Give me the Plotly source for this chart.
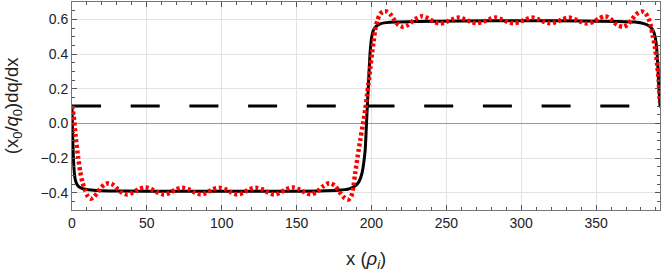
import plotly.graph_objects as go

# ---- data ----
x_max = 392.7
ref_level = 0.1

black_x = [0, 0.25, 0.6, 1.0, 1.5, 2.2, 3.2, 4.5, 6.5, 9, 13, 20, 35, 60, 100, 140, 165, 178,
           185, 189, 190.5, 192, 193.6, 194.8, 195.8, 196.9, 198.0, 199.1, 200.2, 201.3, 203,
           205.8, 210, 216, 230, 260, 300, 340, 365, 376, 382, 385.5, 387.8, 389.3, 390.4,
           391.2, 391.9, 392.7]
black_y = [0.10, 0.0, -0.12, -0.21, -0.28, -0.325, -0.35, -0.365, -0.375, -0.38, -0.385, -0.389,
           -0.391, -0.392, -0.392, -0.392, -0.39, -0.386, -0.378, -0.362, -0.35, -0.33, -0.29,
           -0.23, -0.155, 0.04, 0.23, 0.41, 0.50, 0.537, 0.558, 0.574, 0.581, 0.585, 0.588,
           0.59, 0.592, 0.59, 0.588, 0.584, 0.575, 0.562, 0.54, 0.505, 0.44, 0.34, 0.22, 0.10]

red_x = [0, 1, 2.5, 4, 5.5, 7, 8.5, 10.5, 12.5, 14.5, 17, 19.5, 22, 24.5, 27, 30, 33, 36.8,
         40.5, 44.5, 49, 53, 57, 61.4, 65.5, 69.5, 73.6, 77.8, 81.8, 85.9, 90, 94, 98.2, 102.3,
         106.3, 110.4, 114.5, 118.5, 122.7, 126.8, 130.8, 135, 139, 143, 147.3, 151.5, 155.5,
         159.5, 163.5, 167.5, 171.8, 175.5, 179, 182, 184.5, 186.5, 188, 189.1, 190.8, 192.5,
         194.2, 195.8, 197, 198, 199.2, 200.3, 201.4, 202.5, 204, 205.9, 208, 210.3, 212.5, 215,
         218, 221, 224.5, 229, 233.8, 238, 242, 245.8, 250, 254, 258.3, 262.5, 266.5, 270.3,
         274.5, 278.5, 282.8, 287, 291, 294.8, 299, 303, 307.3, 311.5, 315.5, 319.3, 323.5,
         327.5, 331.8, 336, 340, 343.8, 348, 352, 356.3, 360, 364, 368.3, 371, 374, 377, 380.5,
         383, 385, 386.5, 388, 389.5, 390.8, 391.8, 392.7]
red_y = [0.10, 0.05, -0.08, -0.19, -0.28, -0.34, -0.38, -0.42, -0.435, -0.425, -0.40, -0.37,
         -0.352, -0.345, -0.352, -0.375, -0.398, -0.41, -0.40, -0.38, -0.37, -0.38, -0.398,
         -0.41, -0.40, -0.38, -0.372, -0.38, -0.398, -0.41, -0.40, -0.38, -0.372, -0.38,
         -0.398, -0.41, -0.40, -0.38, -0.372, -0.38, -0.398, -0.41, -0.40, -0.38, -0.37,
         -0.38, -0.398, -0.41, -0.395, -0.365, -0.345, -0.36, -0.40, -0.43, -0.44, -0.42,
         -0.36, -0.29, -0.19, -0.096, -0.01, 0.077, 0.16, 0.23, 0.32, 0.40, 0.47, 0.54, 0.595,
         0.632, 0.645, 0.645, 0.63, 0.60, 0.568, 0.557, 0.568, 0.60, 0.618, 0.605, 0.585,
         0.576, 0.585, 0.60, 0.61, 0.60, 0.585, 0.578, 0.585, 0.60, 0.61, 0.60, 0.585, 0.578,
         0.585, 0.60, 0.61, 0.60, 0.585, 0.578, 0.585, 0.60, 0.61, 0.60, 0.585, 0.576, 0.585,
         0.605, 0.618, 0.60, 0.568, 0.557, 0.57, 0.60, 0.63, 0.645, 0.635, 0.605, 0.565, 0.50,
         0.43, 0.34, 0.25, 0.12]

x_tick_vals = [0, 50, 100, 150, 200, 250, 300, 350]
y_tick_vals = [-0.4, -0.2, 0.0, 0.2, 0.4, 0.6]

fig = go.Figure()
fig.add_trace(go.Scatter(x=[0, x_max], y=[ref_level, ref_level], mode="lines",
                         line=dict(color="black", width=3, dash="29px,29.7px"),
                         hoverinfo="skip", showlegend=False))
fig.add_trace(go.Scatter(x=black_x, y=black_y, mode="lines",
                         line=dict(color="black", width=3, shape="spline", smoothing=0.6),
                         showlegend=False))
fig.add_trace(go.Scatter(x=red_x, y=red_y, mode="lines",
                         line=dict(color="#ff0000", width=4.5, dash="3px,2.6px",
                                   shape="spline", smoothing=0.8),
                         showlegend=False))

axis_common = dict(showline=True, linecolor="#777", linewidth=1, mirror="allticks",
                   ticks="inside", ticklen=5, tickcolor="#555", tickwidth=1,
                   showgrid=True, gridcolor="#e3e3e3", gridwidth=1, automargin=False,
                   tickfont=dict(family="Liberation Sans, Arial, sans-serif", size=14,
                                 color="#222"))

fig.update_xaxes(range=[0, x_max], tickmode="array", tickvals=x_tick_vals,
                 zeroline=False,
                 minor=dict(dtick=10, tick0=0, ticks="inside", ticklen=3, tickcolor="#555",
                            showgrid=False),
                 **axis_common)
fig.update_yaxes(range=[-0.5, 0.7], tickmode="array", tickvals=y_tick_vals,
                 tickformat=".1f", zeroline=True, zerolinecolor="#999", zerolinewidth=1,
                 minor=dict(dtick=0.05, tick0=0, ticks="inside", ticklen=3, tickcolor="#555",
                            showgrid=False),
                 **axis_common)

title_font = dict(family="Liberation Sans, Arial, sans-serif", size=18.5, color="#222")
fig.update_layout(
    width=664, height=275,
    margin=dict(l=72, r=4, t=2, b=65, autoexpand=False),
    plot_bgcolor="white", paper_bgcolor="white",
    annotations=[
        dict(text="x (<i>ρ</i><sub><i>i</i></sub>)", x=0.5, y=-0.172, xref="paper",
             yref="paper", xanchor="center", yanchor="top", showarrow=False,
             font=title_font),
        dict(text="(x<sub>0</sub>/<i>q</i><sub>0</sub>)dq/dx", x=-0.1, y=0.5, xref="paper",
             yref="paper", xanchor="center", yanchor="middle", textangle=-90,
             showarrow=False, font=title_font),
    ],
)

fig.write_html("out.html", config={"displayModeBar": False},
               post_script="document.body.style.margin='0';document.body.style.overflow='hidden';")
